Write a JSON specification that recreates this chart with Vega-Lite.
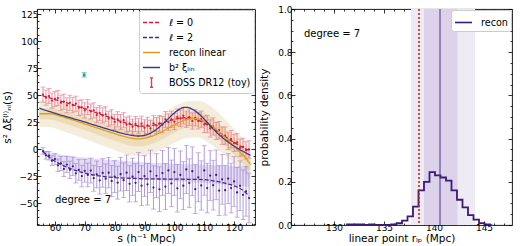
{
"$schema": "https://vega.github.io/schema/vega-lite/v6.json",
"padding": {"left": 1, "top": 4, "right": 1, "bottom": 0},
"spacing": 3,
"resolve": {"scale": {"color": "independent", "stroke": "independent", "strokeDash": "independent", "strokeWidth": "independent"}, "legend": {"color": "independent", "stroke": "independent", "strokeDash": "independent"}},
"config": {
 "font": "DejaVu Sans",
 "view": {"stroke": "#000", "strokeWidth": 0.9},
 "axis": {"labelFont": "DejaVu Sans", "labelFontSize": 9, "labelColor": "#000", "titleFont": "DejaVu Sans", "titleFontSize": 10.5, "titleFontWeight": "normal", "titleColor": "#000", "tickColor": "#000", "tickWidth": 0.8, "domain": false, "grid": false, "labelFlush": false, "labelOverlap": false},
 "legend": {"labelFont": "DejaVu Sans", "labelColor": "#000"}
},
"datasets": {
 "l0": [
  {"s":56,"y":50.7,"e":7},{"s":57,"y":47.9,"e":7},{"s":58,"y":49.4,"e":7},{"s":59,"y":45.2,"e":7},{"s":60,"y":46.8,"e":7},
  {"s":61,"y":47.5,"e":7},{"s":62,"y":43.3,"e":7},{"s":63,"y":44.2,"e":7},{"s":64,"y":40.8,"e":7},{"s":65,"y":43.2,"e":7},
  {"s":66,"y":40.9,"e":7},{"s":67,"y":42.3,"e":7},{"s":68,"y":38.5,"e":7},{"s":69,"y":38.9,"e":7},{"s":70,"y":36.2,"e":7},
  {"s":71,"y":39.2,"e":7},{"s":72,"y":35.1,"e":7},{"s":73,"y":36.1,"e":7},{"s":74,"y":31.8,"e":7},{"s":75,"y":33.6,"e":7},
  {"s":76,"y":31.5,"e":7},{"s":77,"y":32.5,"e":7},{"s":78,"y":28.4,"e":7},{"s":79,"y":29.7,"e":7},{"s":80,"y":25.5,"e":7},
  {"s":81,"y":27.9,"e":7},{"s":82,"y":25.3,"e":7},{"s":83,"y":27.0,"e":7},{"s":84,"y":23.0,"e":7},{"s":85,"y":23.9,"e":7},
  {"s":86,"y":21.0,"e":7},{"s":87,"y":23.6,"e":7},{"s":88,"y":21.4,"e":7},{"s":89,"y":23.8,"e":7},{"s":90,"y":20.0,"e":7.5},
  {"s":91,"y":22.3,"e":7.5},{"s":92,"y":19.5,"e":7.5},{"s":93,"y":24.0,"e":7.5},{"s":94,"y":22.1,"e":7.5},{"s":95,"y":24.0,"e":7.5},
  {"s":96,"y":22.8,"e":7.5},{"s":97,"y":27.7,"e":7.5},{"s":98,"y":25.3,"e":7.5},{"s":99,"y":27.9,"e":7.5},{"s":100,"y":25.7,"e":7.5},
  {"s":101,"y":29.9,"e":7.5},{"s":102,"y":28.7,"e":7.5},{"s":103,"y":31.1,"e":7.5},{"s":104,"y":28.0,"e":7.5},{"s":105,"y":29.8,"e":7.5},
  {"s":106,"y":26.3,"e":7.5},{"s":107,"y":29.3,"e":7.5},{"s":108,"y":26.4,"e":7.5},{"s":109,"y":28.0,"e":7.5},{"s":110,"y":23.2,"e":7.5},
  {"s":111,"y":23.4,"e":8},{"s":112,"y":19.4,"e":8},{"s":113,"y":21.2,"e":8},{"s":114,"y":17.0,"e":8},{"s":115,"y":17.9,"e":8},
  {"s":116,"y":12.7,"e":8},{"s":117,"y":12.8,"e":8},{"s":118,"y":8.0,"e":8},{"s":119,"y":9.5,"e":8},{"s":120,"y":6.0,"e":8},
  {"s":121,"y":6.6,"e":8},{"s":122,"y":1.6,"e":8},{"s":123,"y":2.4,"e":8},{"s":124,"y":-0.9,"e":8},{"s":125,"y":0.0,"e":8}
 ],
 "l2": [
  {"s":56,"y":-1.5,"e":3},{"s":57,"y":-5.5,"e":3.5},{"s":58,"y":-5.8,"e":4},{"s":59,"y":-10.5,"e":4.6},{"s":60,"y":-9.0,"e":5.2},
  {"s":61,"y":-14.7,"e":5.8},{"s":62,"y":-13.0,"e":6.4},{"s":63,"y":-18.1,"e":7},{"s":64,"y":-14.0,"e":7.5},{"s":65,"y":-18.8,"e":8},
  {"s":66,"y":-15.6,"e":8.5},{"s":67,"y":-22.1,"e":9},{"s":68,"y":-19.0,"e":9.5},{"s":69,"y":-24.7,"e":10},{"s":70,"y":-19.8,"e":10.5},
  {"s":71,"y":-23.6,"e":11},{"s":72,"y":-19.6,"e":11.5},{"s":73,"y":-26.7,"e":12},{"s":74,"y":-23.2,"e":12.4},{"s":75,"y":-28.6,"e":12.8},
  {"s":76,"y":-21.8,"e":13.2},{"s":77,"y":-27.1,"e":13.6},{"s":78,"y":-21.6,"e":14},{"s":79,"y":-29.2,"e":14.4},{"s":80,"y":-25.3,"e":14.8},
  {"s":81,"y":-30.8,"e":15.2},{"s":82,"y":-22.9,"e":15.6},{"s":83,"y":-28.5,"e":16},{"s":84,"y":-21.6,"e":16.4},{"s":85,"y":-31.9,"e":16.8},
  {"s":86,"y":-25.3,"e":17.2},{"s":87,"y":-30.9,"e":17.6},{"s":88,"y":-21.0,"e":18},{"s":89,"y":-33.6,"e":18.4},{"s":90,"y":-24.7,"e":18.8},
  {"s":91,"y":-32.3,"e":19.2},{"s":92,"y":-20.3,"e":19.6},{"s":93,"y":-35.3,"e":20},{"s":94,"y":-24.4,"e":20.4},{"s":95,"y":-36.9,"e":20.8},
  {"s":96,"y":-21.9,"e":21},{"s":97,"y":-34.4,"e":21.2},{"s":98,"y":-19.5,"e":21.4},{"s":99,"y":-31.5,"e":21.6},{"s":100,"y":-21.0,"e":21.8},
  {"s":101,"y":-36.0,"e":22},{"s":102,"y":-23.6,"e":22.1},{"s":103,"y":-33.6,"e":22.2},{"s":104,"y":-18.6,"e":22.3},{"s":105,"y":-31.2,"e":22.4},
  {"s":106,"y":-20.2,"e":22.5},{"s":107,"y":-36.8,"e":22.6},{"s":108,"y":-25.8,"e":22.7},{"s":109,"y":-33.4,"e":22.8},{"s":110,"y":-19.5,"e":22.9},
  {"s":111,"y":-35.8,"e":23},{"s":112,"y":-24.2,"e":23},{"s":113,"y":-33.1,"e":23},{"s":114,"y":-23.6,"e":23},{"s":115,"y":-38.1,"e":23},
  {"s":116,"y":-27.7,"e":23},{"s":117,"y":-37.8,"e":23},{"s":118,"y":-27.0,"e":23},{"s":119,"y":-35.8,"e":23},{"s":120,"y":-29.7,"e":23},
  {"s":121,"y":-39.8,"e":23},{"s":122,"y":-33.7,"e":23},{"s":123,"y":-42.0,"e":23},{"s":124,"y":-38.8,"e":23},{"s":125,"y":-45.0,"e":23}
 ],
 "curves": [
  {"series":"ℓ = 0","s":56,"v":49.5},{"series":"ℓ = 0","s":58,"v":47.9},{"series":"ℓ = 0","s":60,"v":46.2},{"series":"ℓ = 0","s":62,"v":44.6},
  {"series":"ℓ = 0","s":64,"v":43.0},{"series":"ℓ = 0","s":66,"v":41.4},{"series":"ℓ = 0","s":68,"v":39.6},{"series":"ℓ = 0","s":70,"v":37.8},
  {"series":"ℓ = 0","s":72,"v":35.8},{"series":"ℓ = 0","s":74,"v":33.8},{"series":"ℓ = 0","s":76,"v":31.8},{"series":"ℓ = 0","s":78,"v":29.8},
  {"series":"ℓ = 0","s":80,"v":27.8},{"series":"ℓ = 0","s":82,"v":25.9},{"series":"ℓ = 0","s":84,"v":24.2},{"series":"ℓ = 0","s":86,"v":22.8},
  {"series":"ℓ = 0","s":88,"v":21.8},{"series":"ℓ = 0","s":90,"v":21.5},{"series":"ℓ = 0","s":92,"v":21.9},{"series":"ℓ = 0","s":94,"v":23.0},
  {"series":"ℓ = 0","s":96,"v":24.5},{"series":"ℓ = 0","s":98,"v":26.3},{"series":"ℓ = 0","s":100,"v":27.8},{"series":"ℓ = 0","s":102,"v":28.9},
  {"series":"ℓ = 0","s":104,"v":29.3},{"series":"ℓ = 0","s":106,"v":28.8},{"series":"ℓ = 0","s":108,"v":27.2},{"series":"ℓ = 0","s":110,"v":24.6},
  {"series":"ℓ = 0","s":112,"v":21.3},{"series":"ℓ = 0","s":114,"v":17.6},{"series":"ℓ = 0","s":116,"v":13.8},{"series":"ℓ = 0","s":118,"v":10.0},
  {"series":"ℓ = 0","s":120,"v":6.5},{"series":"ℓ = 0","s":122,"v":3.2},{"series":"ℓ = 0","s":124,"v":0.3},{"series":"ℓ = 0","s":125,"v":-1.0},
  {"series":"ℓ = 2","s":56,"v":-2},{"series":"ℓ = 2","s":58,"v":-7},{"series":"ℓ = 2","s":60,"v":-11},{"series":"ℓ = 2","s":62,"v":-14},
  {"series":"ℓ = 2","s":64,"v":-16.5},{"series":"ℓ = 2","s":66,"v":-18.6},{"series":"ℓ = 2","s":68,"v":-20.4},{"series":"ℓ = 2","s":70,"v":-22},
  {"series":"ℓ = 2","s":72,"v":-23.2},{"series":"ℓ = 2","s":74,"v":-24.2},{"series":"ℓ = 2","s":76,"v":-25},{"series":"ℓ = 2","s":78,"v":-25.6},
  {"series":"ℓ = 2","s":80,"v":-26.1},{"series":"ℓ = 2","s":85,"v":-26.7},{"series":"ℓ = 2","s":90,"v":-27.2},{"series":"ℓ = 2","s":95,"v":-27.4},
  {"series":"ℓ = 2","s":100,"v":-27.5},{"series":"ℓ = 2","s":105,"v":-27.7},{"series":"ℓ = 2","s":110,"v":-28},{"series":"ℓ = 2","s":113,"v":-29.1},
  {"series":"ℓ = 2","s":116,"v":-30.7},{"series":"ℓ = 2","s":118,"v":-32},{"series":"ℓ = 2","s":120,"v":-33.7},{"series":"ℓ = 2","s":122,"v":-36.2},
  {"series":"ℓ = 2","s":124,"v":-40.3},{"series":"ℓ = 2","s":125,"v":-43},
  {"series":"recon linear","s":54.8,"v":33},{"series":"recon linear","s":57,"v":33},{"series":"recon linear","s":58.5,"v":33},{"series":"recon linear","s":60,"v":32.2},
  {"series":"recon linear","s":62,"v":30.6},{"series":"recon linear","s":64,"v":29},{"series":"recon linear","s":66,"v":27.3},{"series":"recon linear","s":68,"v":25.5},
  {"series":"recon linear","s":70,"v":23.7},{"series":"recon linear","s":72,"v":21.8},{"series":"recon linear","s":74,"v":20},{"series":"recon linear","s":76,"v":18.2},
  {"series":"recon linear","s":78,"v":16.4},{"series":"recon linear","s":80,"v":14.6},{"series":"recon linear","s":82,"v":12.9},{"series":"recon linear","s":84,"v":11.4},
  {"series":"recon linear","s":86,"v":10.2},{"series":"recon linear","s":87.5,"v":9.7},{"series":"recon linear","s":89,"v":9.9},{"series":"recon linear","s":91,"v":11},
  {"series":"recon linear","s":93,"v":12.8},{"series":"recon linear","s":95,"v":15.2},{"series":"recon linear","s":97,"v":18.2},{"series":"recon linear","s":99,"v":21.3},
  {"series":"recon linear","s":101,"v":24.2},{"series":"recon linear","s":103,"v":26.6},{"series":"recon linear","s":105,"v":28.1},{"series":"recon linear","s":106.5,"v":28.5},
  {"series":"recon linear","s":108,"v":28},{"series":"recon linear","s":110,"v":26.1},{"series":"recon linear","s":112,"v":22.8},{"series":"recon linear","s":114,"v":18.5},
  {"series":"recon linear","s":116,"v":13.6},{"series":"recon linear","s":118,"v":8.4},{"series":"recon linear","s":120,"v":3.0},{"series":"recon linear","s":122,"v":-2.5},
  {"series":"recon linear","s":124,"v":-8.5},{"series":"recon linear","s":125.5,"v":-14},
  {"series":"b² ξₗᵢₙ","s":54.8,"v":38.3},{"series":"b² ξₗᵢₙ","s":56,"v":37},{"series":"b² ξₗᵢₙ","s":58,"v":35.2},{"series":"b² ξₗᵢₙ","s":60,"v":33.5},
  {"series":"b² ξₗᵢₙ","s":62,"v":31.8},{"series":"b² ξₗᵢₙ","s":64,"v":30.2},{"series":"b² ξₗᵢₙ","s":66,"v":28.6},{"series":"b² ξₗᵢₙ","s":68,"v":27},
  {"series":"b² ξₗᵢₙ","s":70,"v":25.4},{"series":"b² ξₗᵢₙ","s":72,"v":23.6},{"series":"b² ξₗᵢₙ","s":74,"v":21.9},{"series":"b² ξₗᵢₙ","s":76,"v":20.2},
  {"series":"b² ξₗᵢₙ","s":78,"v":18.5},{"series":"b² ξₗᵢₙ","s":80,"v":16.9},{"series":"b² ξₗᵢₙ","s":82,"v":15.4},{"series":"b² ξₗᵢₙ","s":84,"v":14.0},
  {"series":"b² ξₗᵢₙ","s":86,"v":12.9},{"series":"b² ξₗᵢₙ","s":88,"v":12.4},{"series":"b² ξₗᵢₙ","s":90,"v":13.0},{"series":"b² ξₗᵢₙ","s":92,"v":15.0},
  {"series":"b² ξₗᵢₙ","s":94,"v":18.5},{"series":"b² ξₗᵢₙ","s":96,"v":23.2},{"series":"b² ξₗᵢₙ","s":98,"v":28.5},{"series":"b² ξₗᵢₙ","s":100,"v":33.8},
  {"series":"b² ξₗᵢₙ","s":102,"v":37.6},{"series":"b² ξₗᵢₙ","s":103,"v":38.8},{"series":"b² ξₗᵢₙ","s":104,"v":39.0},{"series":"b² ξₗᵢₙ","s":105,"v":38.5},
  {"series":"b² ξₗᵢₙ","s":106,"v":37.2},{"series":"b² ξₗᵢₙ","s":108,"v":33.4},{"series":"b² ξₗᵢₙ","s":110,"v":28.0},{"series":"b² ξₗᵢₙ","s":112,"v":22.0},
  {"series":"b² ξₗᵢₙ","s":114,"v":16.2},{"series":"b² ξₗᵢₙ","s":116,"v":11.2},{"series":"b² ξₗᵢₙ","s":118,"v":6.8},{"series":"b² ξₗᵢₙ","s":120,"v":3.0},
  {"series":"b² ξₗᵢₙ","s":122,"v":-0.3},{"series":"b² ξₗᵢₙ","s":124,"v":-3.3},{"series":"b² ξₗᵢₙ","s":125.5,"v":-5.5}
 ],
 "band": [
  {"s":54.8,"lo":21,"hi":45,"lo2":28,"hi2":38},{"s":58.5,"lo":20.5,"hi":45.5,"lo2":27.8,"hi2":38.2},{"s":62,"lo":17.6,"hi":43.6,"lo2":25.1,"hi2":36.1},
  {"s":66,"lo":13.8,"hi":40.8,"lo2":21.5,"hi2":33.1},{"s":70,"lo":9.7,"hi":37.7,"lo2":17.7,"hi2":29.7},{"s":74,"lo":5.5,"hi":34.5,"lo2":13.8,"hi2":26.2},
  {"s":78,"lo":1.4,"hi":31.4,"lo2":9.9,"hi2":22.9},{"s":82,"lo":-2.6,"hi":28.4,"lo2":6.1,"hi2":19.7},{"s":86,"lo":-5.8,"hi":26.2,"lo2":3.2,"hi2":17.2},
  {"s":89,"lo":-6.1,"hi":25.9,"lo2":2.9,"hi2":16.9},{"s":93,"lo":-3.7,"hi":29.3,"lo2":5.6,"hi2":20.0},{"s":97,"lo":1.7,"hi":34.7,"lo2":10.8,"hi2":25.6},
  {"s":101,"lo":7.2,"hi":41.2,"lo2":16.7,"hi2":31.7},{"s":105,"lo":11.1,"hi":45.1,"lo2":20.6,"hi2":35.6},{"s":108,"lo":11.0,"hi":45.0,"lo2":20.5,"hi2":35.5},
  {"s":112,"lo":5.3,"hi":40.3,"lo2":15.1,"hi2":30.5},{"s":116,"lo":-3.4,"hi":30.6,"lo2":5.8,"hi2":21.4},{"s":120,"lo":-13,"hi":19,"lo2":-5,"hi2":11},
  {"s":124,"lo":-23.5,"hi":6.5,"lo2":-16.5,"hi2":-0.5},{"s":125.5,"lo":-28,"hi":0,"lo2":-21,"hi2":-7}
 ],
 "pband": [
  {"s":56,"lo":-4,"hi":-1},{"s":58,"lo":-8,"hi":-2.5},{"s":60,"lo":-11.5,"hi":-3.8},{"s":63,"lo":-15.5,"hi":-5.2},{"s":66,"lo":-18.5,"hi":-6.3},
  {"s":70,"lo":-21.5,"hi":-7.5},{"s":75,"lo":-24,"hi":-8.8},{"s":80,"lo":-25.5,"hi":-10},{"s":85,"lo":-26.8,"hi":-11},{"s":90,"lo":-27.8,"hi":-12},
  {"s":95,"lo":-28.6,"hi":-12.7},{"s":100,"lo":-29.4,"hi":-13.3},{"s":105,"lo":-30.2,"hi":-13.8},{"s":110,"lo":-31,"hi":-14.3},{"s":115,"lo":-32,"hi":-14.8},
  {"s":120,"lo":-33.2,"hi":-15.3},{"s":125,"lo":-34.5,"hi":-15.8}
 ],
 "cyan": [{"s":69.8,"y":69,"e":2}],
 "ltext": [{"s":60,"y":-47,"t":"degree = 7"}],
 "hist": [
  {"x":131.3,"d":0},{"x":131.3,"d":0.003},{"x":131.85,"d":0.003},{"x":132.4,"d":0.003},{"x":132.95,"d":0},{"x":133.5,"d":0.003},
  {"x":134.05,"d":0},{"x":134.6,"d":0},{"x":135.15,"d":0},{"x":135.7,"d":0.003},{"x":136.25,"d":0.008},{"x":136.8,"d":0.02},
  {"x":137.35,"d":0.04},{"x":137.9,"d":0.085},{"x":138.45,"d":0.16},{"x":139.0,"d":0.2},{"x":139.55,"d":0.245},{"x":140.1,"d":0.23},
  {"x":140.65,"d":0.22},{"x":141.2,"d":0.205},{"x":141.75,"d":0.16},{"x":142.3,"d":0.117},{"x":142.85,"d":0.082},{"x":143.4,"d":0.046},
  {"x":143.95,"d":0.025},{"x":144.5,"d":0.009},{"x":145.05,"d":0.003},{"x":145.6,"d":0}
 ],
 "rbands": [{"a":137.7,"b":144.1,"k":"outer"},{"a":139.0,"b":142.35,"k":"inner"}],
 "vlines": [{"x":140.6,"k":"median"},{"x":138.5,"k":"ref"}],
 "rtext": [{"x":127.0,"y":0.885,"t":"degree = 7"}]
},
"hconcat": [
 {
  "width": 218, "height": 216,
  "layer": [
   {"layer": [
    {"data": {"name": "band"}, "mark": {"type": "area", "color": "#f5eddb", "interpolate": "monotone"},
     "encoding": {
      "x": {"field": "s", "type": "quantitative", "scale": {"domain": [54, 127], "nice": false, "zero": false}, "axis": null},
      "y": {"field": "lo", "type": "quantitative", "scale": {"domain": [-70, 130], "nice": false, "zero": false}, "axis": null},
      "y2": {"field": "hi"}
     }},
    {"data": {"name": "band"}, "mark": {"type": "area", "color": "#ecdcb8", "interpolate": "monotone"},
     "encoding": {"x": {"field": "s", "type": "quantitative", "axis": null}, "y": {"field": "lo2", "type": "quantitative", "axis": null}, "y2": {"field": "hi2"}}},
    {"data": {"name": "pband"}, "mark": {"type": "area", "color": "#c4b4e4", "opacity": 0.45, "interpolate": "monotone"},
     "encoding": {"x": {"field": "s", "type": "quantitative", "axis": null}, "y": {"field": "lo", "type": "quantitative", "axis": null}, "y2": {"field": "hi"}}},
    {"data": {"name": "l0"}, "mark": {"type": "errorbar", "color": "#e8728c", "thickness": 0.8, "ticks": {"size": 5, "thickness": 0.8}},
     "encoding": {"x": {"field": "s", "type": "quantitative", "axis": null}, "y": {"field": "y", "type": "quantitative", "axis": null}, "yError": {"field": "e"}}},
    {"data": {"name": "l0"}, "mark": {"type": "point", "filled": true, "size": 5, "opacity": 1, "color": "#d01c3c"},
     "encoding": {"x": {"field": "s", "type": "quantitative", "axis": null}, "y": {"field": "y", "type": "quantitative", "axis": null}}},
    {"data": {"name": "l2"}, "mark": {"type": "errorbar", "color": "#9b80d2", "thickness": 0.8, "ticks": {"size": 5, "thickness": 0.8}},
     "encoding": {"x": {"field": "s", "type": "quantitative", "axis": null}, "y": {"field": "y", "type": "quantitative", "axis": null}, "yError": {"field": "e"}}},
    {"data": {"name": "l2"}, "mark": {"type": "point", "filled": true, "size": 5, "opacity": 1, "color": "#3d1a7a"},
     "encoding": {"x": {"field": "s", "type": "quantitative", "axis": null}, "y": {"field": "y", "type": "quantitative", "axis": null}}},
    {"data": {"name": "curves"}, "mark": {"type": "line", "interpolate": "monotone", "strokeWidth": 1.3},
     "encoding": {
      "x": {"field": "s", "type": "quantitative", "axis": null}, "y": {"field": "v", "type": "quantitative", "axis": null},
      "color": {"field": "series", "type": "nominal",
        "scale": {"domain": ["ℓ = 0", "ℓ = 2", "recon linear", "b² ξₗᵢₙ", "BOSS DR12 (toy)"], "range": ["#dc143c", "#4b2590", "#e39a1f", "#363d8e", "#dc3c64"]},
        "legend": {"title": null, "orient": "top-right", "offset": 1, "fillColor": "white", "strokeColor": "#cccccc", "cornerRadius": 3, "padding": 3, "labelFontSize": 9.6, "symbolType": "stroke", "symbolSize": 289, "symbolStrokeWidth": 1.4, "rowPadding": -5, "labelOffset": 8, "labelLimit": 200,
          "encode": {"symbols": {"update": {"shape": {"signal": "datum.value === 'BOSS DR12 (toy)' ? 'M0,-0.55L0,0.55M-0.18,-0.55L0.18,-0.55M-0.18,0.55L0.18,0.55' : 'stroke'"}}}}}},
      "strokeDash": {"field": "series", "type": "nominal",
        "scale": {"domain": ["ℓ = 0", "ℓ = 2", "recon linear", "b² ξₗᵢₙ", "BOSS DR12 (toy)"], "range": [[4,2],[4,2],[1,0],[1,0],[1,0]]}}
     }},
    {"data": {"name": "cyan"}, "mark": {"type": "errorbar", "color": "#2a9d9d", "thickness": 0.8, "ticks": {"size": 5, "thickness": 0.8}},
     "encoding": {"x": {"field": "s", "type": "quantitative", "axis": null}, "y": {"field": "y", "type": "quantitative", "axis": null}, "yError": {"field": "e"}}},
    {"data": {"name": "cyan"}, "mark": {"type": "point", "filled": true, "size": 10, "opacity": 1, "color": "#2a9d9d"},
     "encoding": {"x": {"field": "s", "type": "quantitative", "axis": null}, "y": {"field": "y", "type": "quantitative", "axis": null}}},
    {"data": {"name": "ltext"}, "mark": {"type": "text", "align": "left", "baseline": "middle", "fontSize": 10, "font": "DejaVu Sans", "color": "#000"},
     "encoding": {"x": {"field": "s", "type": "quantitative", "axis": null}, "y": {"field": "y", "type": "quantitative", "axis": null}, "text": {"field": "t"}}}
   ]},
   {"data": {"name": "l0"}, "mark": {"type": "point", "opacity": 0},
    "encoding": {
     "x": {"field": "s", "type": "quantitative", "axis": {"orient": "bottom", "title": "s (h⁻¹ Mpc)", "values": [60,70,80,90,100,110,120], "format": "d", "labelOverlap": false, "tickSize": -4, "labelPadding": 2, "titlePadding": 1}},
     "y": {"field": "y", "type": "quantitative", "axis": {"orient": "left", "title": "s² Δξ⁽ˡ⁾ₙₗ(s)", "values": [-50,-25,0,25,50,75,100,125], "format": "d", "labelOverlap": false, "tickSize": -4, "labelPadding": 3, "titlePadding": 7}}
    }},
   {"data": {"name": "l0"}, "mark": {"type": "point", "opacity": 0},
    "encoding": {
     "x": {"field": "s", "type": "quantitative", "axis": {"orient": "bottom", "labels": false, "title": null, "values": [54,56,58,62,64,66,68,72,74,76,78,82,84,86,88,92,94,96,98,102,104,106,108,112,114,116,118,122,124,126], "tickSize": -2}},
     "y": {"field": "y", "type": "quantitative", "axis": {"orient": "left", "labels": false, "title": null, "values": [-68.75,-62.5,-56.25,-43.75,-37.5,-31.25,-18.75,-12.5,-6.25,6.25,12.5,18.75,31.25,37.5,43.75,56.25,62.5,68.75,81.25,87.5,93.75,106.25,112.5,118.75], "tickSize": -2}}
    }},
   {"data": {"name": "l0"}, "mark": {"type": "point", "opacity": 0},
    "encoding": {
     "x": {"field": "s", "type": "quantitative", "axis": {"orient": "top", "labels": false, "title": null, "values": [54,56,58,60,62,64,66,68,70,72,74,76,78,80,82,84,86,88,90,92,94,96,98,100,102,104,106,108,110,112,114,116,118,120,122,124,126], "tickSize": {"condition": {"test": "datum.value % 10 === 0", "value": -4}, "value": -2}}},
     "y": {"field": "y", "type": "quantitative", "axis": {"orient": "right", "labels": false, "title": null, "values": [-68.75,-62.5,-56.25,-50,-43.75,-37.5,-31.25,-25,-18.75,-12.5,-6.25,0,6.25,12.5,18.75,25,31.25,37.5,43.75,50,56.25,62.5,68.75,75,81.25,87.5,93.75,100,106.25,112.5,118.75,125], "tickSize": {"condition": {"test": "datum.value % 25 === 0", "value": -4}, "value": -2}}}
    }}
  ],
  "resolve": {"axis": {"x": "independent", "y": "independent"}}
 },
 {
  "width": 221, "height": 216,
  "layer": [
   {"layer": [
    {"data": {"name": "rbands"}, "transform": [{"filter": "datum.k === 'outer'"}], "mark": {"type": "rect", "color": "#efebf5"},
     "encoding": {
      "x": {"field": "a", "type": "quantitative", "scale": {"domain": [125.7, 147.8], "nice": false, "zero": false}, "axis": null},
      "x2": {"field": "b"}
     }},
    {"data": {"name": "rbands"}, "transform": [{"filter": "datum.k === 'inner'"}], "mark": {"type": "rect", "color": "#dcd3ea"},
     "encoding": {"x": {"field": "a", "type": "quantitative", "axis": null}, "x2": {"field": "b"}}},
    {"data": {"name": "hist"}, "mark": {"type": "line", "interpolate": "step-after", "strokeWidth": 1.8},
     "encoding": {
      "x": {"field": "x", "type": "quantitative", "axis": null},
      "y": {"field": "d", "type": "quantitative", "scale": {"domain": [0, 1], "nice": false, "zero": false}, "axis": null},
      "stroke": {"datum": "recon", "type": "nominal", "scale": {"domain": ["recon"], "range": ["#3b1a78"]},
        "legend": {"title": null, "orient": "top-right", "offset": 1, "fillColor": "white", "strokeColor": "#cccccc", "cornerRadius": 3, "padding": 3, "labelFontSize": 9.6, "symbolType": "stroke", "symbolSize": 289, "symbolStrokeWidth": 1.6, "labelOffset": 8}}
     }},
    {"data": {"name": "vlines"}, "transform": [{"filter": "datum.k === 'median'"}], "mark": {"type": "rule", "color": "#4d3088", "strokeWidth": 1},
     "encoding": {"x": {"field": "x", "type": "quantitative", "axis": null}}},
    {"data": {"name": "vlines"}, "transform": [{"filter": "datum.k === 'ref'"}], "mark": {"type": "rule", "color": "#c4261d", "strokeWidth": 1.6, "strokeDash": [2, 2]},
     "encoding": {"x": {"field": "x", "type": "quantitative", "axis": null}}},
    {"data": {"name": "rtext"}, "mark": {"type": "text", "align": "left", "baseline": "middle", "fontSize": 10, "font": "DejaVu Sans", "color": "#000"},
     "encoding": {"x": {"field": "x", "type": "quantitative", "axis": null}, "y": {"field": "y", "type": "quantitative", "axis": null}, "text": {"field": "t"}}}
   ]},
   {"data": {"name": "hist"}, "mark": {"type": "point", "opacity": 0},
    "encoding": {
     "x": {"field": "x", "type": "quantitative", "axis": {"orient": "bottom", "title": "linear point rₗₚ (Mpc)", "values": [130,135,140,145], "format": "d", "labelOverlap": false, "tickSize": -4, "labelPadding": 2, "titlePadding": 1}},
     "y": {"field": "d", "type": "quantitative", "axis": {"orient": "left", "title": "probability density", "values": [0,0.2,0.4,0.6,0.8,1.0], "format": ".1f", "labelOverlap": false, "tickSize": -4, "labelPadding": 3, "titlePadding": 8}}
    }},
   {"data": {"name": "hist"}, "mark": {"type": "point", "opacity": 0},
    "encoding": {
     "x": {"field": "x", "type": "quantitative", "axis": {"orient": "bottom", "labels": false, "title": null, "values": [126,127,128,129,131,132,133,134,136,137,138,139,141,142,143,144,146,147], "tickSize": -2}},
     "y": {"field": "d", "type": "quantitative", "axis": {"orient": "left", "labels": false, "title": null, "values": [0.05,0.1,0.15,0.25,0.3,0.35,0.45,0.5,0.55,0.65,0.7,0.75,0.85,0.9,0.95], "tickSize": -2}}
    }},
   {"data": {"name": "hist"}, "mark": {"type": "point", "opacity": 0},
    "encoding": {
     "x": {"field": "x", "type": "quantitative", "axis": {"orient": "top", "labels": false, "title": null, "values": [126,127,128,129,130,131,132,133,134,135,136,137,138,139,140,141,142,143,144,145,146,147], "tickSize": {"condition": {"test": "datum.value % 5 === 0", "value": -4}, "value": -2}}},
     "y": {"field": "d", "type": "quantitative", "axis": {"orient": "right", "labels": false, "title": null, "values": [0,0.05,0.1,0.15,0.2,0.25,0.3,0.35,0.4,0.45,0.5,0.55,0.6,0.65,0.7,0.75,0.8,0.85,0.9,0.95,1.0], "tickSize": {"condition": {"test": "abs(round(datum.value * 100) % 20) === 0", "value": -4}, "value": -2}}}
    }}
  ],
  "resolve": {"axis": {"x": "independent", "y": "independent"}}
 }
]
}
